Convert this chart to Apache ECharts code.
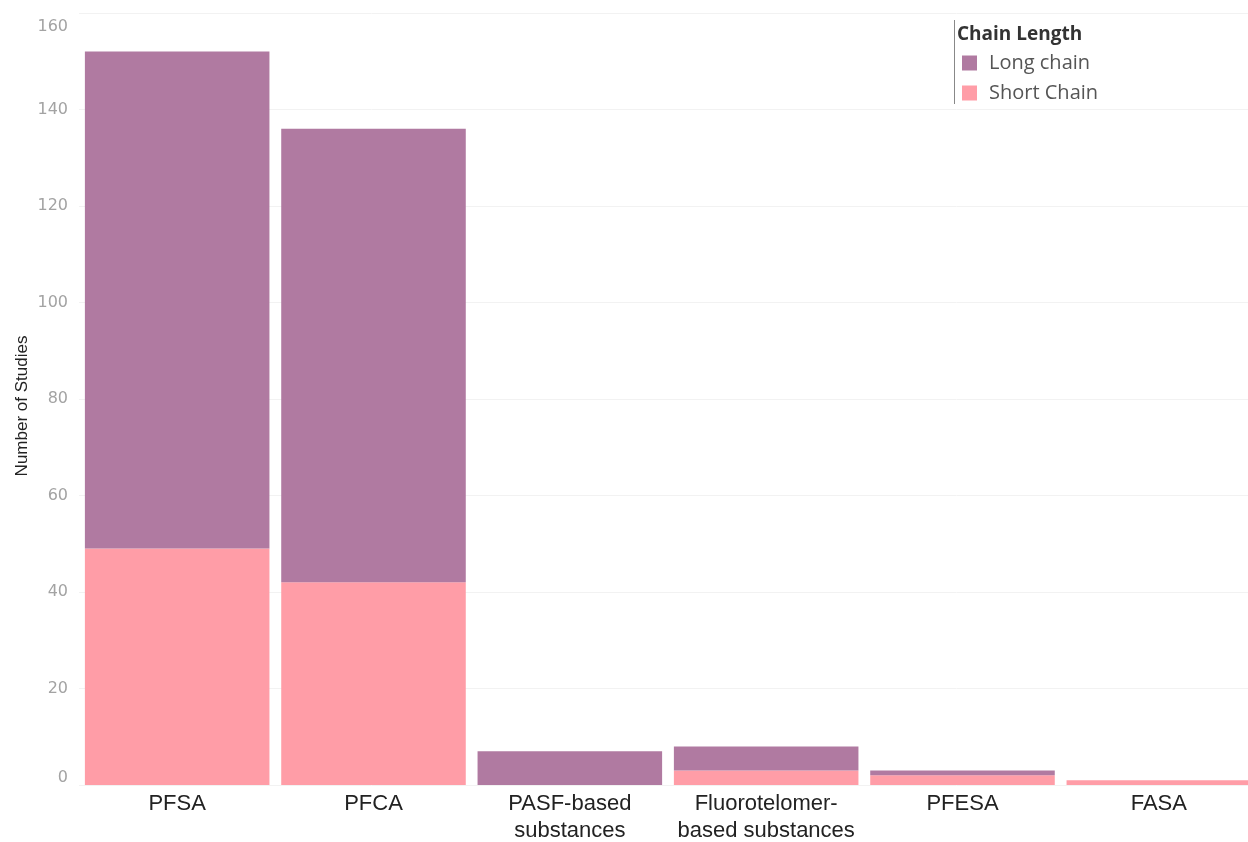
<!DOCTYPE html>
<html>
<head>
<meta charset="utf-8">
<script src="https://cdn.jsdelivr.net/npm/echarts@6/dist/echarts.min.js"></script>
<style>
  html, body { margin: 0; padding: 0; background: #ffffff; }
  #chart { width: 1248px; height: 842px; }
</style>
</head>
<body>
<div id="chart"></div>
<script>
// PFAS groups and the number of studies per chain length
const categories = ['PFSA', 'PFCA', 'PASF-based\nsubstances', 'Fluorotelomer-\nbased substances', 'PFESA', 'FASA'];
const shortChain = [49, 42, 0, 3, 2, 1];
const longChain = [103, 94, 7, 5, 1, 0];
const yTicks = [0, 20, 40, 60, 80, 100, 120, 140, 160];

const colorLong = '#B07AA1';
const colorShort = '#FF9DA7';
const tickColor = '#a3a3a3';

const chart = echarts.init(document.getElementById('chart'));

chart.setOption({
  backgroundColor: '#ffffff',
  animation: false,
  grid: { left: 79, top: 13, width: 1178, height: 772, containLabel: false, outerBoundsMode: 'none' },
  legend: {
    data: ['Long chain', 'Short Chain'],
    orient: 'vertical',
    left: 957,
    top: 48,
    icon: 'rect',
    itemWidth: 15,
    itemHeight: 15,
    itemGap: 10,
    textStyle: { fontFamily: 'Open Sans', fontSize: 20, color: '#555555', padding: [0, 0, 0, 7] },
    selectedMode: false
  },
  graphic: [
    {
      type: 'text',
      left: 957,
      top: 25,
      style: { text: 'Chain Length', font: 'bold 19px "Open Sans"', fill: '#333333' }
    },
    {
      type: 'line',
      shape: { x1: 954.5, y1: 20, x2: 954.5, y2: 104 },
      style: { stroke: '#888888', lineWidth: 1 }
    },
    {
      type: 'text',
      x: 22,
      y: 406,
      rotation: Math.PI / 2,
      style: {
        text: 'Number of Studies',
        font: '17px "Liberation Sans"',
        fill: '#222222',
        align: 'center',
        verticalAlign: 'middle'
      }
    }
  ],
  xAxis: {
    type: 'category',
    data: categories,
    axisLine: { show: false },
    axisTick: { show: false },
    axisLabel: {
      margin: 5,
      fontFamily: 'Liberation Sans',
      fontSize: 22,
      color: '#222222',
      lineHeight: 27,
      interval: 0
    }
  },
  yAxis: {
    type: 'value',
    min: yTicks[0],
    max: yTicks[yTicks.length - 1],
    interval: yTicks[1] - yTicks[0],
    axisLine: { show: false },
    axisTick: { show: false },
    splitLine: { lineStyle: { color: '#f2f2f2', width: 1 } },
    axisLabel: {
      margin: 11,
      fontFamily: 'DejaVu Sans',
      fontSize: 16,
      color: tickColor,
      formatter: function (v) {
        if (v === yTicks[0]) return '{lo|' + v + '}';
        if (v === yTicks[yTicks.length - 1]) return '{hi|' + v + '}';
        return String(v);
      },
      rich: {
        lo: { padding: [0, 0, 15, 0], fontFamily: 'DejaVu Sans', fontSize: 16, color: tickColor },
        hi: { padding: [28, 0, 0, 0], fontFamily: 'DejaVu Sans', fontSize: 16, color: tickColor }
      }
    }
  },
  series: [
    {
      name: 'Short Chain',
      type: 'bar',
      stack: 'chain',
      data: shortChain,
      barCategoryGap: '6%',
      itemStyle: { color: colorShort }
    },
    {
      name: 'Long chain',
      type: 'bar',
      stack: 'chain',
      data: longChain,
      barCategoryGap: '6%',
      itemStyle: { color: colorLong }
    }
  ]
});
</script>
</body>
</html>
